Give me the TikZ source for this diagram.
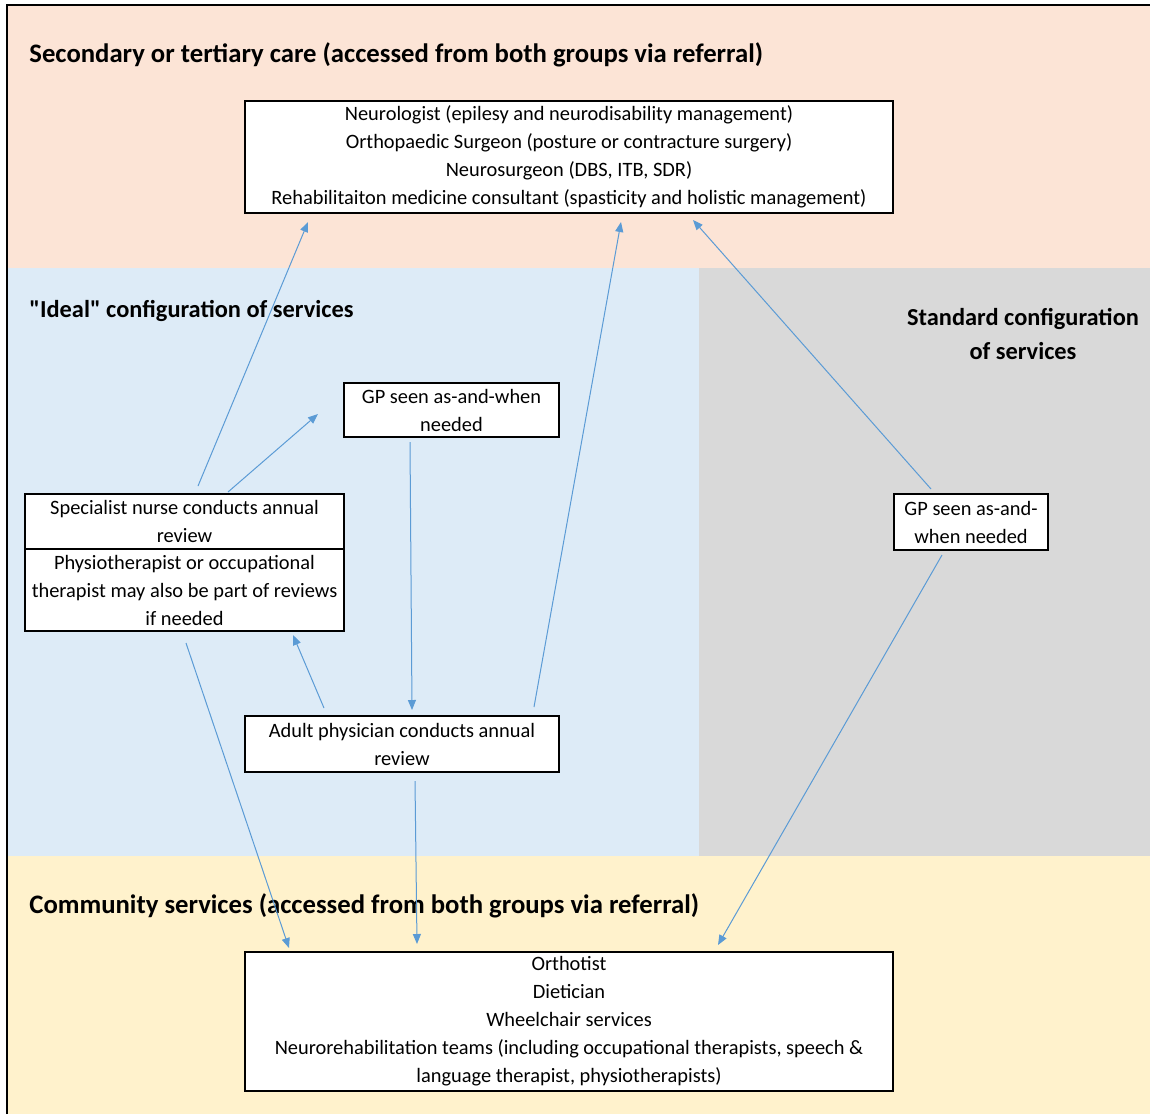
\documentclass[tikz,border=0pt]{standalone}
\usepackage{fontspec}
\setmainfont{Carlito}
\usetikzlibrary{arrows.meta,calc}
\definecolor{peach}{HTML}{FCE4D6}
\definecolor{lblue}{HTML}{DDEBF7}
\definecolor{lgrey}{HTML}{D9D9D9}
\definecolor{lyellow}{HTML}{FFF2CC}
\definecolor{arrowblue}{HTML}{5B9BD5}
\begin{document}
\begin{tikzpicture}[x=0.5pt,y=-0.5pt,
  box/.style={draw=black,line width=1pt,fill=white,inner sep=0pt,align=center,anchor=north west,font=\fontsize{10.2}{14}\selectfont},
  arr/.style={draw=arrowblue,line width=0.5pt,-{Triangle[length=5pt,width=4pt]}},
  head/.style={font=\bfseries\fontsize{12.2}{17}\selectfont,anchor=west,inner sep=0pt},
  bighead/.style={head,font=\bfseries\fontsize{13.35}{17}\selectfont}]
\useasboundingbox (0,0) rectangle (1150,1114);
% regions
\fill[peach] (8,5) rectangle (1150,268);
\fill[lblue] (8,268) rectangle (699,856);
\fill[lgrey] (699,268) rectangle (1150,856);
\fill[lyellow] (8,856) rectangle (1150,1114);
\draw[line width=1pt] (7,1114) -- (7,5) -- (1150,5);
% headings
\node[bighead] (h1) at (29,55) {Secondary or tertiary care (accessed from both groups via referral)};
\node[head] (h2) at (29,311) {\textquotedbl Ideal\textquotedbl\ configuration of services};
\node[head,anchor=center,align=center] (h3) at (1023,334) {Standard configuration\\of services};
\node[bighead] (h4) at (29,906) {Community services (accessed from both groups via referral)};
% boxes
\node[box,minimum width=324pt,minimum height=56pt] (top) at (244,100) {Neurologist (epilesy and neurodisability management)\\Orthopaedic Surgeon (posture or contracture surgery)\\Neurosurgeon (DBS, ITB, SDR)\\Rehabilitaiton medicine consultant (spasticity and holistic management)};
\node[box,minimum width=107.5pt,minimum height=27pt] (gpi) at (343,382) {GP seen as-and-when\\needed};
\node[box,minimum width=159.5pt,minimum height=27.5pt] (nurse) at (24,493) {Specialist nurse conducts annual\\review};
\node[box,minimum width=159.5pt,minimum height=41pt] (physio) at (24,548) {Physiotherapist or occupational\\therapist may also be part of reviews\\if needed};
\node[box,minimum width=157pt,minimum height=28pt] (adult) at (244,715) {Adult physician conducts annual\\review};
\node[box,minimum width=77pt,minimum height=28pt] (gps) at (893,493) {GP seen as-and-\\when needed};
\node[box,minimum width=324pt,minimum height=69.5pt] (bottom) at (244,951) {Orthotist\\Dietician\\Wheelchair services\\Neurorehabilitation teams (including occupational therapists, speech \&\\language therapist, physiotherapists)};
% arrows
\draw[arr] ($(nurse.north west)+(174,-7)$) -- ($(top.south west)+(64,8)$);
\draw[arr] ($(nurse.north west)+(204,-1)$) -- ($(gpi.north west)+(-25,32)$);
\draw[arr] ($(gpi.south west)+(67,4)$) -- ($(adult.north west)+(168,-5)$);
\draw[arr] ($(adult.north west)+(290,-8)$) -- ($(top.south west)+(377,8)$);
\draw[arr] ($(gps.north west)+(38,-4)$) -- ($(top.south west)+(449,6)$);
\draw[arr] ($(adult.north west)+(80,-7)$) -- ($(physio.south west)+(269,3)$);
\draw[arr] ($(physio.south west)+(162,11)$) -- ($(bottom.north west)+(45,-3)$);
\draw[arr] ($(adult.south west)+(171,8)$) -- ($(bottom.north west)+(173,-7)$);
\draw[arr] ($(gps.south west)+(49,4)$) -- ($(bottom.north west)+(474,-6)$);
\end{tikzpicture}
\end{document}
